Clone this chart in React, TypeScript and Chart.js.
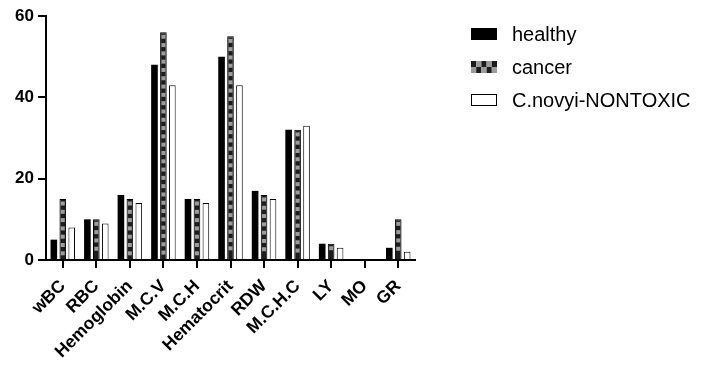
import { useEffect, useRef } from "react";
import { Chart, registerables } from "chart.js";
Chart.register(...registerables);

const categories = ["wBC", "RBC", "Hemoglobin", "M.C.V", "M.C.H", "Hematocrit", "RDW", "M.C.H.C", "LY", "MO", "GR"];
const healthy = [5, 10, 16, 48, 15, 50, 17, 32, 4, 0, 3];
const cancer = [15, 10, 15, 56, 15, 55, 16, 32, 4, 0, 10];
const nontoxic = [8, 9, 14, 43, 14, 43, 15, 33, 3, 0, 2];
const seriesLabels = ["healthy", "cancer", "C.novyi-NONTOXIC"];
const yMin = 0;
const yMax = 60;
const yStep = 20;

const FONT = "Arial, 'Liberation Sans', Helvetica, sans-serif";
const GRAY = "#9c9c9c";
const DARK = "#1c1c1c";

const checkerPlugin = {
  id: "checker",
  afterDatasetsDraw(chart: any) {
    const meta = chart.getDatasetMeta(1);
    const ctx = chart.ctx;
    ctx.save();
    ctx.fillStyle = GRAY;
    meta.data.forEach((el: any) => {
      const sq = 4;
      const top = Math.min(el.y, el.base);
      const bottom = Math.max(el.y, el.base);
      if (bottom - top < 6) return;
      const left = el.x - sq / 2;
      for (let yy = top + 2.5; yy + sq <= bottom - 2; yy += 8.3) {
        ctx.fillRect(left, yy, sq, sq);
      }
    });
    ctx.restore();
  },
};

const legendPlugin = {
  id: "customLegend",
  afterDraw(chart: any) {
    const ctx = chart.ctx;
    const area = chart.chartArea;
    const x0 = area.right + 56;
    const yc0 = 34;
    const gap = 33;
    const bw = 26;
    const bh = 12;
    ctx.save();
    seriesLabels.forEach((lab, i) => {
      const yc = yc0 + i * gap;
      const top = yc - bh / 2;
      if (i === 0) {
        ctx.fillStyle = "#000";
        ctx.fillRect(x0, top, bw, bh);
      } else if (i === 1) {
        const cs = bw / 5;
        for (let c = 0; c < 5; c++) {
          for (let r = 0; r < 2; r++) {
            ctx.fillStyle = (c + r) % 2 === 0 ? DARK : GRAY;
            ctx.fillRect(x0 + c * cs, top + r * (bh / 2), cs, bh / 2);
          }
        }
      } else {
        ctx.fillStyle = "#fff";
        ctx.fillRect(x0, top, bw, bh);
        ctx.strokeStyle = "#000";
        ctx.lineWidth = 1;
        ctx.strokeRect(x0 + 0.5, top + 0.5, bw - 1, bh - 1);
      }
      ctx.fillStyle = "#000";
      ctx.font = `20px ${FONT}`;
      ctx.textBaseline = "middle";
      ctx.textAlign = "left";
      ctx.fillText(lab, x0 + 41, yc + 1);
    });
    ctx.restore();
  },
};

export default function App() {
  const ref = useRef<HTMLCanvasElement | null>(null);
  useEffect(() => {
    document.body.style.margin = "0";
    if (!ref.current) return;
    const chart = new Chart(ref.current, {
      type: "bar",
      data: {
        labels: categories,
        datasets: [
          {
            label: seriesLabels[0],
            data: healthy,
            backgroundColor: "#000",
            borderColor: "#000",
            borderWidth: 0,
          },
          {
            label: seriesLabels[1],
            data: cancer,
            backgroundColor: DARK,
            borderColor: "#000",
            borderWidth: 1,
          },
          {
            label: seriesLabels[2],
            data: nontoxic,
            backgroundColor: "#fff",
            borderColor: "#000",
            borderWidth: 1,
          },
        ],
      },
      options: {
        responsive: false,
        animation: false,
        datasets: {
          bar: {
            categoryPercentage: 0.8,
            barPercentage: 0.74,
          },
        },
        layout: { padding: { left: 0, top: 16, right: 286, bottom: 0 } },
        plugins: {
          legend: { display: false },
          tooltip: { enabled: false },
        },
        scales: {
          x: {
            offset: true,
            grid: {
              display: true,
              drawOnChartArea: false,
              drawTicks: true,
              tickLength: 8,
              color: "#000",
              lineWidth: 2,
              offset: false,
            },
            border: { display: true, color: "#000", width: 2 },
            ticks: {
              color: "#000",
              font: { family: FONT, size: 17.5, weight: "bold" },
              maxRotation: 45,
              minRotation: 45,
              padding: 8,
              autoSkip: false,
            },
            afterFit(scale: any) {
              scale.height = 110;
            },
          },
          y: {
            min: yMin,
            max: yMax,
            grid: {
              display: true,
              drawOnChartArea: false,
              drawTicks: true,
              tickLength: 8,
              color: "#000",
              lineWidth: 2,
            },
            border: { display: true, color: "#000", width: 2 },
            ticks: {
              stepSize: yStep,
              color: "#000",
              font: { family: FONT, size: 17, weight: "bold" },
              padding: 4,
            },
            afterFit(scale: any) {
              scale.width = 46;
            },
          },
        },
      },
      plugins: [checkerPlugin, legendPlugin],
    });
    return () => chart.destroy();
  }, []);
  return (
    <div style={{ width: 701, height: 370 }}>
      <canvas ref={ref} width={701} height={370} style={{ display: "block" }} />
    </div>
  );
}
